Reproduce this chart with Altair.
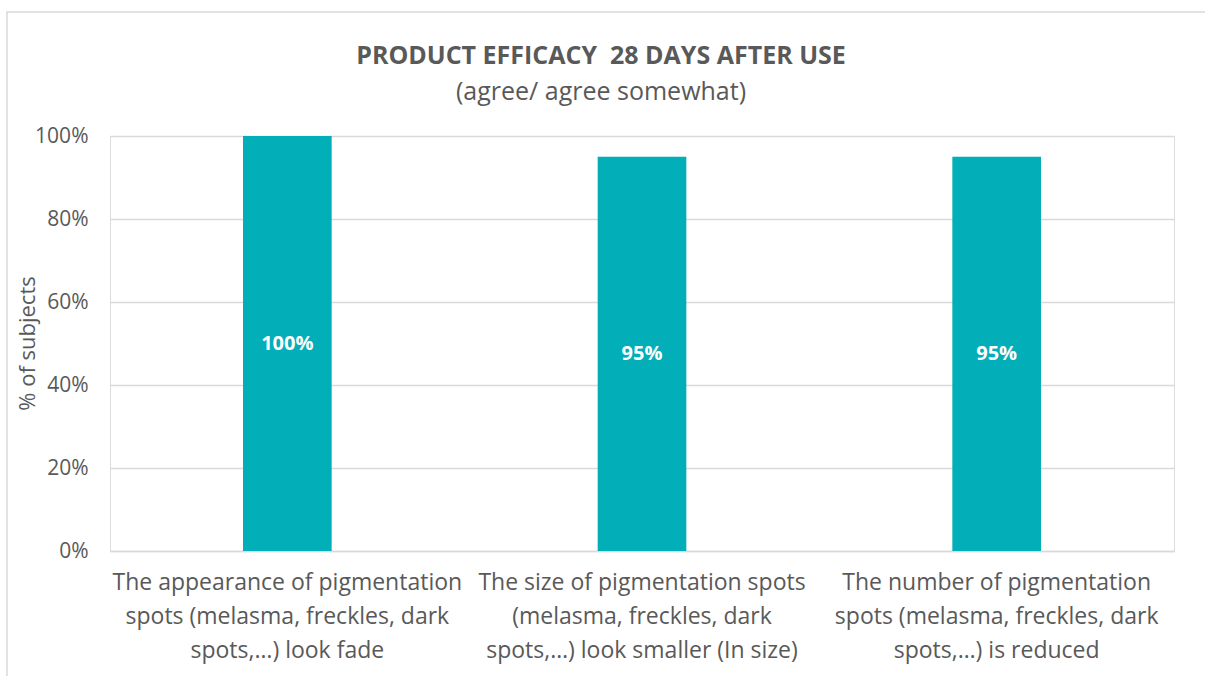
import altair as alt
import pandas as pd

# Survey statements (lines separated by "|") and share of subjects agreeing
statements = [
    "The appearance of pigmentation|spots (melasma, freckles, dark|spots,…) look fade",
    "The size of pigmentation spots|(melasma, freckles, dark|spots,…) look smaller (In size)",
    "The number of pigmentation|spots (melasma, freckles, dark|spots,…) is reduced",
]
agree_share = [1.00, 0.95, 0.95]
value_labels = ["100%", "95%", "95%"]

df = pd.DataFrame({"statement": statements, "share": agree_share, "label": value_labels})

TEXT = "#595959"
TEAL = "#02AEB7"
GRID = "#D9D9D9"
FONT = "Open Sans"

x_enc = alt.X(
    "statement:N",
    sort=None,
    title=None,
    scale=alt.Scale(paddingInner=0.75, paddingOuter=0.375),
    axis=alt.Axis(
        labelExpr="split(datum.value, '|')",
        labelAngle=0,
        labelFontSize=23,
        labelLineHeight=34,
        labelColor=TEXT,
        labelFont=FONT,
        labelPadding=20,
        labelLimit=0,
        ticks=False,
        domainColor=GRID,
        domainWidth=1.5,
    ),
)

y_enc = alt.Y(
    "share:Q",
    title="% of subjects",
    scale=alt.Scale(domain=[0, 1]),
    axis=alt.Axis(
        format=".0%",
        values=[0, 0.2, 0.4, 0.6, 0.8, 1.0],
        labelFontSize=21,
        labelColor=TEXT,
        labelFont=FONT,
        labelPadding=22,
        ticks=False,
        domain=False,
        gridColor=GRID,
        gridWidth=1.5,
        titleFontSize=22,
        titleFont=FONT,
        titleFontWeight="normal",
        titleColor=TEXT,
        titleX=-83,
        titleY=207,
        titleAngle=-90,
        titleAlign="center",
        titleBaseline="middle",
    ),
)

bars = alt.Chart(df).mark_bar(color=TEAL).encode(x=x_enc, y=y_enc)

labels = alt.Chart(df).transform_calculate(mid="datum.share / 2").mark_text(
    color="white", fontWeight="bold", fontSize=20, font=FONT, baseline="middle"
).encode(x=alt.X("statement:N", sort=None), y=alt.Y("mid:Q"), text="label:N")

# light outline framing the whole chart
frame = alt.Chart(pd.DataFrame({"f": [0]})).mark_rect(
    fill=None, stroke=GRID, strokeWidth=1.5
).encode(x=alt.value(-103), x2=alt.value(1100), y=alt.value(-124), y2=alt.value(560))

chart = alt.layer(frame, bars, labels).properties(
    width=1064,
    height=415,
    autosize=alt.AutoSizeParams(type="none"),
    padding={"left": 110, "top": 136, "right": 31, "bottom": 125},
    title=alt.TitleParams(
        text="PRODUCT EFFICACY\u00a0 28 DAYS AFTER USE",
        subtitle="(agree/ agree somewhat)",
        anchor="middle",
        frame="group",
        dx=-41,
        offset=-94,
        font=FONT,
        fontSize=25,
        fontWeight="bold",
        color=TEXT,
        subtitleFont=FONT,
        subtitleFontSize=25,
        subtitleColor=TEXT,
        subtitlePadding=11,
    ),
).configure_view(stroke=None).configure(background="white")

chart.save("out.html", embed_options={"renderer": "svg", "actions": False})
